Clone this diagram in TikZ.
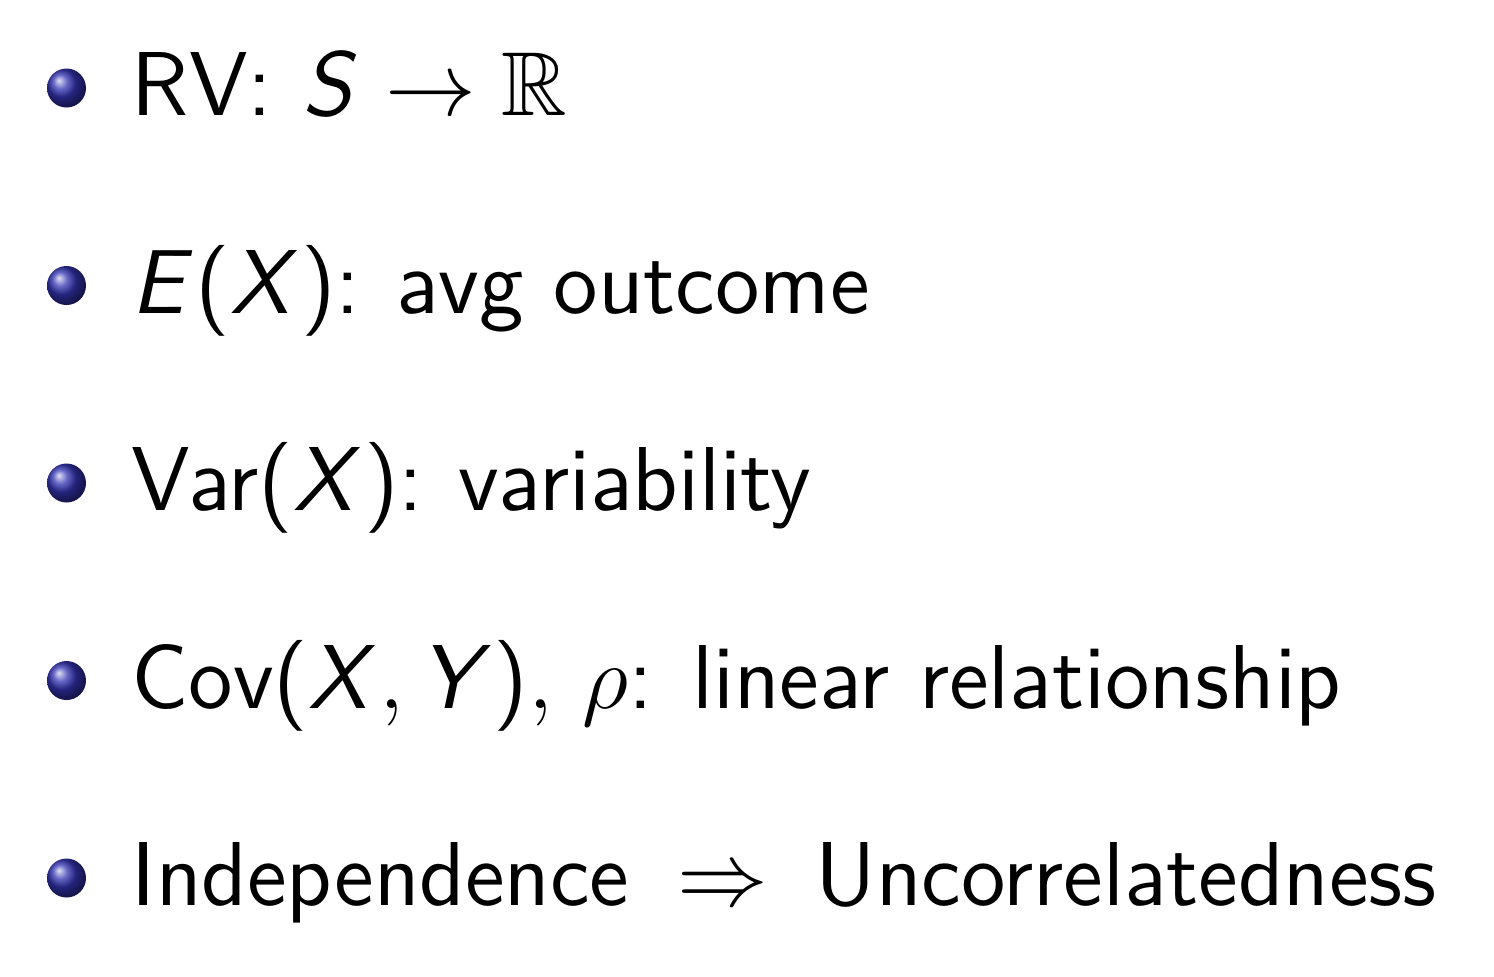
\documentclass[tikz,border=0pt]{standalone}
\usepackage{amssymb}
\usepackage{graphicx}
\usepackage{fontspec}
\DeclareMathAlphabet{\msl}{OT1}{cmss}{m}{sl}
\newcommand\sfL{\mathopen{\hbox{\sffamily(}}}
\newcommand\sfR{\mathclose{\hbox{\sffamily)}}}
\newcommand\tscale{1.6667}
\definecolor{ballblue}{rgb}{0.2,0.2,0.7}
\begin{document}
\begin{tikzpicture}[x=0.2203pt,y=-0.2203pt]
\tikzset{
  ball/.style={circle,inner sep=0pt,minimum size=39*0.2203pt,shading=ball,ball color=ballblue},
  item/.style={anchor=base west,inner sep=0pt}
}
\newcommand\itm[1]{\scalebox{\tscale}{\sffamily\fontsize{12}{14}\selectfont #1}}
\useasboundingbox (0,0) rectangle (1494,976);
\node[ball] (b1) at (66.5,88) {};
\node[ball] (b2) at (66.5,285.5) {};
\node[ball] (b3) at (66.5,483) {};
\node[ball] (b4) at (66.5,680.5) {};
\node[ball] (b5) at (66.5,878) {};
\node[item] (t1) at (131,115.5) {\itm{RV: $\msl{S} \to \mathbb{R}$}};
\node[item] (t2) at (131,313) {\itm{$\msl{E}\sfL\msl{X}\sfR$:\hspace{-0.04em} avg outcome}};
\node[item] (t3) at (131,510.5) {\itm{Var$\sfL\msl{X}\sfR$:\hspace{-0.05em} variability}};
\node[item] (t4) at (131,708) {\itm{Cov$\sfL\msl{X},\msl{Y}\sfR,$ $\rho$: linear relationship}};
\node[item] (t5) at (131,905.5) {\itm{Independence\hspace{0.53em}$\Rightarrow$\hspace{0.52em}Uncorrelatedness}};
\end{tikzpicture}
\end{document}
